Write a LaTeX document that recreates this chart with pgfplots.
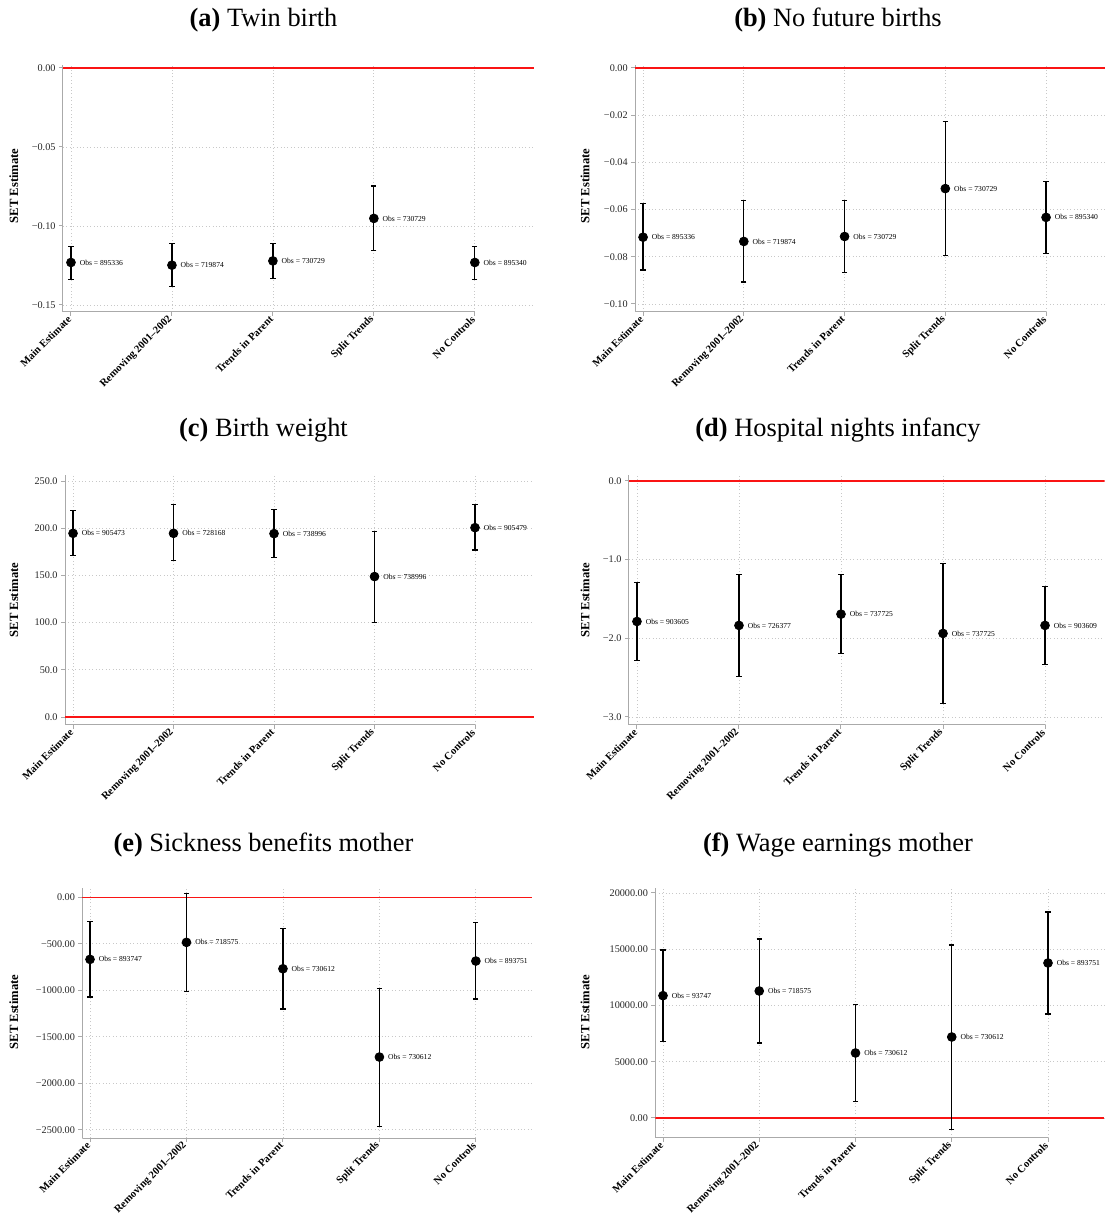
\documentclass[border=0pt]{standalone}
\usepackage{fontspec}
\setmainfont{Liberation Serif}
\usepackage{pgfplots}
\usepackage{pgfplotstable}
\pgfplotsset{compat=1.18}
\definecolor{axisgray}{RGB}{170,170,170}
\definecolor{gridgray}{RGB}{200,200,200}
\definecolor{statared}{RGB}{250,20,20}

\pgfplotstableread{
x y lo hi obs
0 -0.1231 -0.1337 -0.1130 895336
1 -0.1248 -0.1384 -0.1111 719874
2 -0.1221 -0.1333 -0.1111 730729
3 -0.0952 -0.1157 -0.0747 730729
4 -0.1231 -0.1337 -0.1130 895340
}\tabA
\pgfplotstableread{
x y lo hi obs
0 -0.0717 -0.0856 -0.0575 895336
1 -0.0735 -0.0907 -0.0561 719874
2 -0.0714 -0.0865 -0.0563 730729
3 -0.0511 -0.0795 -0.0227 730729
4 -0.0633 -0.0787 -0.0481 895340
}\tabB
\pgfplotstableread{
x y lo hi obs
0 194.6 171.0 218.6 905473
1 194.6 165.4 225.0 728168
2 194.3 168.9 219.7 738996
3 148.8 100.5 196.4 738996
4 200.6 177.0 225.0 905479
}\tabC
\pgfplotstableread{
x y lo hi obs
0 -1.786 -2.281 -1.295 903605
1 -1.836 -2.484 -1.189 726377
2 -1.693 -2.196 -1.189 737725
3 -1.938 -2.831 -1.045 737725
4 -1.836 -2.331 -1.341 903609
}\tabD
\pgfplotstableread{
x y lo hi obs
0 -667 -1072 -262 893747
1 -484 -1011 43 718575
2 -768 -1202 -334 730612
3 -1718 -2461 -979 730612
4 -685 -1094 -273 893751
}\tabE
\pgfplotstableread{
x y lo hi obs
0 10874 6815 14933 93747
1 11289 6667 15911 718575
2 5778 1452 10074 730612
3 7200 -1007 15378 730612
4 13778 9244 18311 893751
}\tabF

\pgfplotsset{
  panel/.style={
    scale only axis,
    xmin=-0.08, xmax=4.585,
    xtick={0,1,2,3,4},
    xticklabels={Main Estimate,Removing 2001–2002,Trends in Parent,Split Trends,No Controls},
    axis x line*=bottom, axis y line*=left,
    x axis line style={draw=none},
    y axis line style={draw=axisgray, line width=0.5pt},
    scaled y ticks=false,
    tick align=outside, major tick length=2pt,
    tick style={axisgray, line width=0.5pt},
    grid=major,
    major grid style={gridgray, line width=0.4pt, dash pattern=on 0.5pt off 1.2pt},
    xticklabel style={font=\bfseries\fontsize{5.3}{6}\selectfont, rotate=45, anchor=east, inner sep=1pt},
    yticklabel style={font=\fontsize{5.1}{6}\selectfont, text=black!85, inner sep=1.5pt},
    every axis plot/.append style={forget plot},
  },
  est/.style={
    only marks, black, mark=*, mark size=2.2pt,
    mark options={draw=black, fill=black, solid},
    error bars/y dir=both, error bars/y explicit,
    error bars/error bar style={black, line width=0.6pt},
    error bars/error mark options={rotate=90, mark size=1.3pt, line width=0.6pt, black},
  },
  obsnodes/.style={
    point meta=explicit symbolic,
    nodes near coords={Obs = \pgfplotspointmeta},
    every node near coord/.append style={anchor=west, inner sep=0pt, xshift=4.2pt,
      font=\fontsize{3.8}{4}\selectfont, text=black},
  },
}

\newcommand{\panelplot}[1]{%
  \draw[statared, line width=0.7pt] (axis cs:-0.08,0) -- (axis cs:4.585,0);
  \addplot[est, obsnodes] table[x=x, y=y, meta=obs,
     y error plus expr=\thisrow{hi}-\thisrow{y},
     y error minus expr=\thisrow{y}-\thisrow{lo}] {#1};
}

\begin{document}
\begin{tikzpicture}
\useasboundingbox (0,0) rectangle (552.5pt,608.5pt);

% (a)
\begin{axis}[panel, at={(31.45pt,452.5pt)}, anchor=south west,
  width=235.5pt, height=123.5pt, ymin=-0.15443, ymax=0.0019,
  ytick={-0.15,-0.10,-0.05,0}, yticklabels={−0.15,−0.10,−0.05,0.00}]
  \panelplot{\tabA}
  \draw[axisgray, line width=0.5pt] (axis cs:-0.08,-0.15443) -- (axis cs:4,-0.15443);
\end{axis}

% (b)
\begin{axis}[panel, at={(317.5pt,452.5pt)}, anchor=south west,
  width=235pt, height=123.5pt, ymin=-0.10339, ymax=0.00127,
  ytick={-0.10,-0.08,-0.06,-0.04,-0.02,0}, yticklabels={−0.10,−0.08,−0.06,−0.04,−0.02,0.00}]
  \panelplot{\tabB}
  \draw[axisgray, line width=0.5pt] (axis cs:-0.08,-0.10339) -- (axis cs:4,-0.10339);
\end{axis}

% (c)
\begin{axis}[panel, at={(32.5pt,246pt)}, anchor=south west,
  width=234.4pt, height=125pt, ymin=-8.47, ymax=256.4,
  ytick={0,50,100,150,200,250}, yticklabels={0.0,50.0,100.0,150.0,200.0,250.0}]
  \panelplot{\tabC}
  \draw[axisgray, line width=0.5pt] (axis cs:-0.08,-8.47) -- (axis cs:4,-8.47);
\end{axis}

% (d)
\begin{axis}[panel, at={(314.4pt,246pt)}, anchor=south west,
  width=237.95pt, height=125pt, ymin=-3.1017, ymax=0.076,
  ytick={-3,-2,-1,0}, yticklabels={−3.0,−2.0,−1.0,0.0}]
  \panelplot{\tabD}
  \draw[axisgray, line width=0.5pt] (axis cs:-0.08,-3.1017) -- (axis cs:4,-3.1017);
\end{axis}

% (e)
\begin{axis}[panel, at={(41.15pt,39.5pt)}, anchor=south west,
  width=225pt, height=125pt, ymin=-2589, ymax=101,
  ytick={-2500,-2000,-1500,-1000,-500,0}, yticklabels={−2500.00,−2000.00,−1500.00,−1000.00,−500.00,0.00}]
  \panelplot{\tabE}
  \draw[axisgray, line width=0.5pt] (axis cs:-0.08,-2589) -- (axis cs:4,-2589);
  \coordinate (eZeroL) at (axis cs:-0.08,0);
  \coordinate (eZeroR) at (axis cs:4.585,0);
  \coordinate (eBarT) at (axis cs:1,43);
  \coordinate (eBarB) at (axis cs:1,-100);
\end{axis}
\draw[statared, line width=0.7pt] (eZeroL) -- (eZeroR);
\draw[black, line width=0.6pt] (eBarT) -- (eBarB);

% (f)
\begin{axis}[panel, at={(327.65pt,39.5pt)}, anchor=south west,
  width=224.5pt, height=125pt, ymin=-1778, ymax=20444,
  ytick={0,5000,10000,15000,20000}, yticklabels={0.00,5000.00,10000.00,15000.00,20000.00}]
  \panelplot{\tabF}
  \draw[axisgray, line width=0.5pt] (axis cs:-0.08,-1778) -- (axis cs:4,-1778);
\end{axis}

% titles
\node[anchor=base, font=\fontsize{13.2}{15}\selectfont] at (131.75pt,595pt) {\textbf{(a)} Twin birth};
\node[anchor=base, font=\fontsize{13.2}{15}\selectfont] at (419pt,595pt) {\textbf{(b)} No future births};
\node[anchor=base, font=\fontsize{13.2}{15}\selectfont] at (131.75pt,390pt) {\textbf{(c)} Birth weight};
\node[anchor=base, font=\fontsize{13.2}{15}\selectfont] at (419pt,390pt) {\textbf{(d)} Hospital nights infancy};
\node[anchor=base, font=\fontsize{13.2}{15}\selectfont] at (131.75pt,182.5pt) {\textbf{(e)} Sickness benefits mother};
\node[anchor=base, font=\fontsize{13.2}{15}\selectfont] at (419pt,182.5pt) {\textbf{(f)} Wage earnings mother};

% y labels
\foreach \xx in {6.9pt,292.5pt}{
  \node[rotate=90, font=\bfseries\fontsize{6.3}{7}\selectfont] at (\xx,515.5pt) {SET Estimate};
  \node[rotate=90, font=\bfseries\fontsize{6.3}{7}\selectfont] at (\xx,308.5pt) {SET Estimate};
  \node[rotate=90, font=\bfseries\fontsize{6.3}{7}\selectfont] at (\xx,102.5pt) {SET Estimate};
}
\end{tikzpicture}
\end{document}
